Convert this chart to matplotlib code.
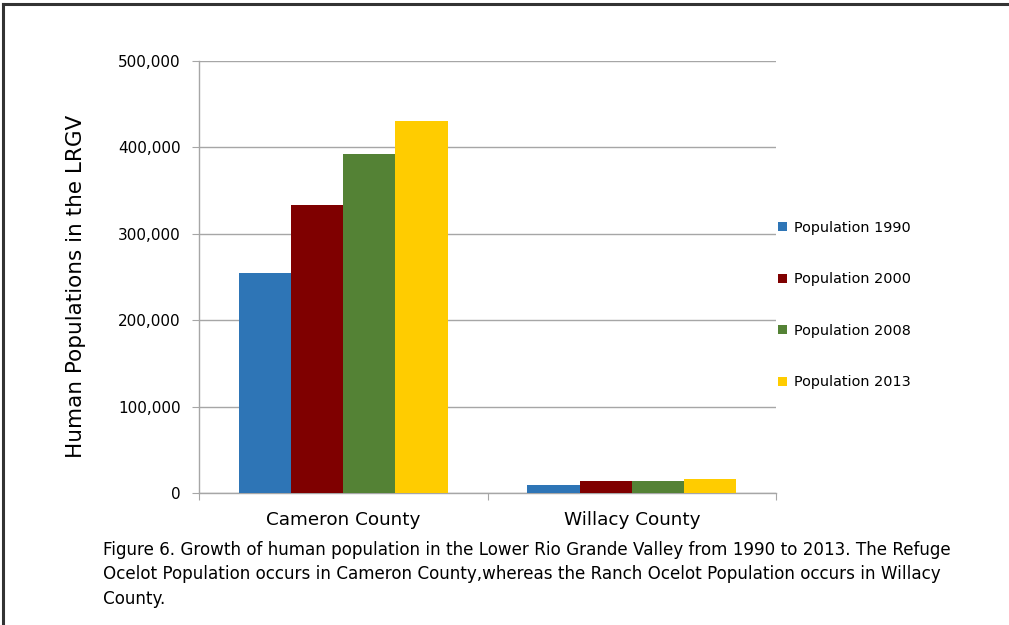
import numpy as np
import matplotlib.pyplot as plt
from matplotlib.lines import Line2D
from matplotlib.ticker import FuncFormatter

# Data
counties = ['Cameron County', 'Willacy County']
series_labels = ['Population 1990', 'Population 2000', 'Population 2008', 'Population 2013']
pop_1990 = [254600, 9800]
pop_2000 = [333400, 14400]
pop_2008 = [392400, 14400]
pop_2013 = [430600, 16700]
y_ticks = [0, 100000, 200000, 300000, 400000, 500000]

colors = ['#2E75B6', '#7F0000', '#548235', '#FFCC00']
grid_color = '#A6A6A6'

caption = ("Figure 6. Growth of human population in the Lower Rio Grande Valley from 1990 to 2013. The Refuge\n"
           "Ocelot Population occurs in Cameron County,whereas the Ranch Ocelot Population occurs in Willacy\n"
           "County.")

fig = plt.figure(figsize=(10.09, 6.25), dpi=100)
ax = fig.add_axes([199 / 1009, 1 - 493 / 625, 577 / 1009, 432 / 625])

x = np.arange(len(counties))
bar_w = 0.181
all_series = [pop_1990, pop_2000, pop_2008, pop_2013]
for i, (vals, lab) in enumerate(zip(all_series, series_labels)):
    offset = (i - 1.5) * bar_w
    ax.bar(x + offset, vals, width=bar_w, color=colors[i], label=lab, zorder=3)

ax.set_xlim(-0.5, 1.5)
ax.set_ylim(0, 500000)
ax.set_yticks(y_ticks)
ax.yaxis.set_major_formatter(FuncFormatter(lambda v, p: f"{int(v):,}"))
ax.tick_params(axis='y', labelsize=11, length=5, color=grid_color, pad=8)

# category labels centered, tick marks at the category boundaries
ax.set_xticks([-0.5, 0.5, 1.5])
ax.set_xticklabels([])
ax.tick_params(axis='x', length=5, color=grid_color)
ax.set_xticks(x, minor=True)
ax.set_xticklabels(counties, minor=True, fontsize=13.2)
ax.tick_params(axis='x', which='minor', length=0, pad=13)

ax.grid(axis='y', color=grid_color, linewidth=1, zorder=0)
for side in ['top', 'right']:
    ax.spines[side].set_visible(False)
for side in ['left', 'bottom']:
    ax.spines[side].set_color(grid_color)
    ax.spines[side].set_linewidth(1)

ax.set_ylabel('Human Populations in the LRGV', fontsize=15.5)
ax.yaxis.set_label_coords(-0.196, 0.478)

fig.legend(loc='center left', bbox_to_anchor=(765 / 1009, 1 - 305 / 625), frameon=False,
           fontsize=10.4, handlelength=0.6, handleheight=0.6, handletextpad=0.5,
           labelspacing=2.6)

fig.text(103 / 1009, 1 - 541 / 625, caption, fontsize=12.1,
         va='top', ha='left', linespacing=1.45)

# frame lines on top and left of the figure
fig.add_artist(Line2D([0.003, 1.0], [1 - 4 / 625, 1 - 4 / 625], color='#333333', linewidth=2.2,
                      transform=fig.transFigure))
fig.add_artist(Line2D([0.003, 0.003], [0.0, 1 - 4 / 625], color='#333333', linewidth=2.2,
                      transform=fig.transFigure))

fig.savefig('out.png', dpi=100)
